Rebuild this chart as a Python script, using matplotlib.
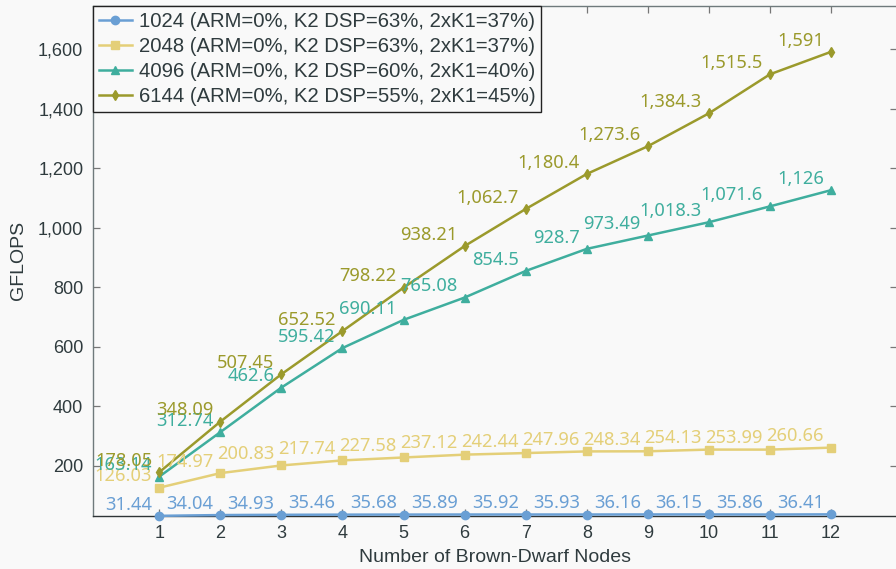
import numpy as np
import matplotlib
matplotlib.use("Agg")
import matplotlib.pyplot as plt

# =========================
# DATA
# =========================
nodes = [1, 2, 3, 4, 5, 6, 7, 8, 9, 10, 11, 12]

gflops_1024 = [31.44, 34.04, 34.93, 35.46, 35.68, 35.89, 35.92, 35.93, 36.16, 36.15, 35.86, 36.41]
gflops_2048 = [126.03, 174.97, 200.83, 217.74, 227.58, 237.12, 242.44, 247.96, 248.34, 254.13, 253.99, 260.66]
gflops_4096 = [163.14, 312.74, 462.6, 595.42, 690.11, 765.08, 854.5, 928.7, 973.49, 1018.3, 1071.6, 1126]
gflops_6144 = [178.05, 348.09, 507.45, 652.52, 798.22, 938.21, 1062.7, 1180.4, 1273.6, 1384.3, 1515.5, 1591]

series_labels = [
    "1024 (ARM=0%, K2 DSP=63%, 2xK1=37%)",
    "2048 (ARM=0%, K2 DSP=63%, 2xK1=37%)",
    "4096 (ARM=0%, K2 DSP=60%, 2xK1=40%)",
    "6144 (ARM=0%, K2 DSP=55%, 2xK1=45%)",
]
yticks = [200, 400, 600, 800, 1000, 1200, 1400, 1600]

# =========================
# STYLE
# =========================
BG = "#f9f9f9"
TXT = "#2f3b3e"
colors = ["#6a9fd4", "#e4cf78", "#3fae9e", "#9b9a2c"]
markers = ["o", "s", "^", "d"]
msizes = [6, 6, 6, 5.5]

TICK_FONT = "Liberation Sans"
VAL_FONT = "Noto Sans"


def fmt_val(v):
    # pgfplots-like: 5 significant digits, thousands separator
    s = "{:.5g}".format(v)
    if "." in s:
        ip, dp = s.split(".")
        return "{:,}".format(int(ip)) + "." + dp
    return "{:,}".format(int(float(s)))


fig = plt.figure(figsize=(8.96, 5.69), dpi=100, facecolor=BG)
ax = fig.add_axes([93 / 896, 1 - 515.7 / 569, (897 - 93) / 896, (515.7 - 6) / 569])
ax.set_facecolor(BG)

all_series = [gflops_1024, gflops_2048, gflops_4096, gflops_6144]
for vals, lab, c, m, ms in zip(all_series, series_labels, colors, markers, msizes):
    ax.plot(nodes, vals, color=c, marker=m, markersize=ms, linewidth=1.8,
            label=lab, clip_on=False, zorder=3)
    for x, y in zip(nodes, vals):
        ax.annotate(fmt_val(y), (x, y), xytext=(-5, 4.5), textcoords="offset points",
                    ha="right", va="baseline", color=c, fontsize=13.2,
                    fontfamily=VAL_FONT, zorder=4)

ax.set_xlim(-0.085, 13.08)
ax.set_ylim(31.9, 1745)

ax.set_xticks(nodes)
ax.set_yticks(yticks)
ax.set_yticklabels(["{:,}".format(t) for t in yticks])

ax.tick_params(direction="in", length=5, width=0.9, color="#777777",
               top=True, right=True, labelsize=13, labelcolor=TXT)
ax.tick_params(axis="x", pad=7)
ax.tick_params(axis="y", pad=7)
for lbl in ax.get_xticklabels() + ax.get_yticklabels():
    lbl.set_fontfamily(TICK_FONT)

for side in ["left", "top", "right"]:
    ax.spines[side].set_color("#6f7a7c")
    ax.spines[side].set_linewidth(1.0)
ax.spines["bottom"].set_color("#2f3537")
ax.spines["bottom"].set_linewidth(1.0)

ax.set_xlabel("Number of Brown-Dwarf Nodes", fontsize=14, color=TXT,
              fontfamily=TICK_FONT, labelpad=5)
ax.set_ylabel("GFLOPS", fontsize=14, color=TXT, fontfamily=TICK_FONT, labelpad=8)

leg = ax.legend(loc="upper left", borderaxespad=0, frameon=True, fancybox=False,
                prop={"family": TICK_FONT, "size": 14.6}, handlelength=1.6,
                handletextpad=0.35, labelspacing=0.3, borderpad=0.3)
leg.get_frame().set_edgecolor("#222222")
leg.get_frame().set_linewidth(1.0)
leg.get_frame().set_facecolor(BG)
leg.get_frame().set_alpha(1)
for t in leg.get_texts():
    t.set_color(TXT)

fig.savefig("out.png", dpi=100, facecolor=BG)
